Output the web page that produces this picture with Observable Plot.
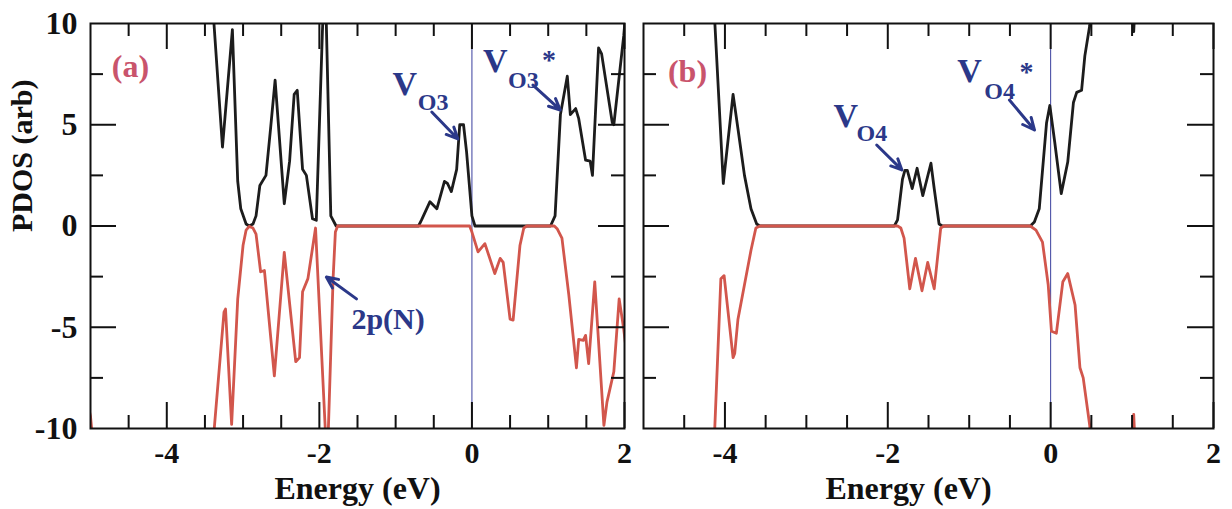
<!DOCTYPE html>
<html>
<head>
<meta charset="utf-8">
<script src="https://cdn.jsdelivr.net/npm/d3@7"></script>
<script src="https://cdn.jsdelivr.net/npm/@observablehq/plot@0.6"></script>
<style>
  body { margin: 0; background: #fff; }
  #fig { position: relative; width: 1232px; height: 509px; overflow: hidden; background: #fff; }
  #fig svg { position: absolute; top: 0; }
</style>
</head>
<body>
<div id="fig"></div>
<script>
// Spin-resolved PDOS, energy in eV; positive = spin up, negative = spin down.
// Values beyond ±10 run off the frame and are clipped.
const panelAUp = [
  [-5.05, 14], [-3.42, 14], [-3.40, 11], [-3.27, 3.9], [-3.14, 9.7], [-3.07, 2.2], [-3.03, 0.85],
  [-2.96, 0.1], [-2.92, 0], [-2.87, 0.1], [-2.83, 0.5], [-2.78, 2.0], [-2.70, 2.5], [-2.64, 4.8],
  [-2.58, 7.2], [-2.46, 1.1], [-2.39, 3.2], [-2.33, 6.5], [-2.29, 6.7], [-2.22, 2.8], [-2.17, 2.5],
  [-2.09, 0.36], [-2.04, 0.28], [-1.96, 9.6], [-1.945, 11], [-1.915, 11], [-1.85, 0.5], [-1.78, 0],
  [-0.70, 0], [-0.66, 0.3], [-0.55, 1.2], [-0.46, 0.85], [-0.36, 2.2], [-0.32, 2.1], [-0.27, 1.7],
  [-0.20, 2.8], [-0.16, 5.0], [-0.11, 5.0], [-0.07, 3.65], [0.0, 0.5], [0.04, 0], [1.03, 0],
  [1.09, 0.5], [1.16, 5.5], [1.25, 7.4], [1.29, 5.5], [1.36, 5.8], [1.40, 5.3], [1.49, 3.25],
  [1.55, 3.2], [1.58, 2.5], [1.66, 8.8], [1.70, 8.5], [1.84, 5.1], [1.86, 5.0], [1.99, 9.4], [2.05, 12]
];
const panelADown = [
  [-5.05, -8.5], [-5.0, -9.4], [-4.96, -11], [-4.9, -14], [-3.45, -14], [-3.40, -11], [-3.25, -4.25],
  [-3.23, -4.1], [-3.15, -9.8], [-3.07, -3.6], [-3.0, -0.95], [-2.96, -0.2], [-2.92, -0.02],
  [-2.87, -0.1], [-2.83, -0.4], [-2.77, -2.26], [-2.72, -2.2], [-2.59, -7.4], [-2.46, -1.3],
  [-2.31, -6.7], [-2.26, -6.5], [-2.22, -3.25], [-2.15, -2.6], [-2.05, -0.1], [-1.91, -11],
  [-1.89, -11], [-1.82, -2.6], [-1.79, -0.3], [-1.76, 0], [-0.03, 0], [0.0, -0.3], [0.08, -1.28],
  [0.17, -0.87], [0.30, -2.35], [0.37, -1.6], [0.41, -1.8], [0.50, -4.6], [0.54, -4.65],
  [0.63, -0.95], [0.68, -0.1], [0.72, 0], [1.08, 0], [1.12, -0.15], [1.18, -0.6], [1.27, -3.4],
  [1.37, -7.0], [1.40, -5.6], [1.46, -5.65], [1.49, -5.4], [1.53, -6.8], [1.61, -2.76],
  [1.73, -9.85], [1.77, -8.7], [1.86, -7.2], [1.93, -3.6], [1.99, -5.1], [2.05, -7]
];
const panelBUp = [
  [-5.05, 14], [-4.15, 14], [-4.13, 10.5], [-4.02, 2.1], [-3.90, 6.5], [-3.84, 4.8], [-3.76, 2.5],
  [-3.68, 0.85], [-3.61, 0.1], [-3.57, 0], [-1.92, 0], [-1.88, 0.3], [-1.82, 2.3], [-1.79, 2.75],
  [-1.76, 2.75], [-1.70, 1.85], [-1.64, 2.85], [-1.57, 1.5], [-1.47, 3.1], [-1.43, 1.85],
  [-1.37, 0.1], [-1.33, 0], [-0.25, 0], [-0.20, 0.2], [-0.14, 0.85], [-0.05, 5.1], [-0.01, 5.95],
  [0.05, 4.15], [0.13, 1.6], [0.21, 3.16], [0.28, 6.1], [0.32, 6.6], [0.38, 6.7], [0.42, 8.4],
  [0.48, 9.9], [0.52, 12], [0.98, 12], [1.02, 9.6], [1.05, 12], [2.05, 14]
];
const panelBDown = [
  [-5.05, -14], [-4.15, -14], [-4.13, -10.5], [-4.05, -2.6], [-4.01, -2.45], [-3.90, -6.5],
  [-3.88, -6.3], [-3.84, -4.6], [-3.76, -2.9], [-3.68, -1.2], [-3.62, -0.1], [-3.57, 0],
  [-1.88, 0], [-1.84, -0.1], [-1.80, -0.6], [-1.73, -3.1], [-1.66, -1.6], [-1.58, -3.2],
  [-1.51, -1.8], [-1.43, -3.1], [-1.35, -0.1], [-1.31, 0], [-0.25, 0], [-0.18, -0.2],
  [-0.10, -0.8], [-0.03, -2.9], [0.01, -5.2], [0.07, -5.3], [0.15, -2.75], [0.21, -2.35],
  [0.30, -3.9], [0.36, -7.0], [0.40, -7.5], [0.48, -9.85], [0.52, -12], [0.98, -12],
  [1.02, -9.3], [1.05, -12], [2.05, -14]
];

// Axis ticks
const energyTicks = [-4, -2, 0, 2];
const energyMinorTicks = [-4.5, -3.5, -3, -2.5, -1.5, -1, -0.5, 0.5, 1, 1.5];
const pdosTicks = [-10, -5, 0, 5, 10];
const pdosInnerTicks = [-5, 0, 5];
const pdosMinorTicks = [-7.5, -2.5, 2.5, 7.5];

// Annotations, placed in (energy, PDOS) coordinates
const panelATag = [{e: -4.72, v: 7.85, t: "(a)"}];
const panelBTag = [{e: -4.70, v: 7.6, t: "(b)"}];
const panelAV = [{e: -1.04, v: 7.0, t: "V"}, {e: 0.145, v: 8.15, t: "V"}];
const panelASub = [{e: -0.71, v: 6.1, t: "O3"}, {e: 0.474, v: 7.2, t: "O3"}];
const panelAStar = [{e: 0.92, v: 8.2, t: "*"}];
const panelANote = [{e: -1.58, v: -4.61, t: "2p(N)"}];
const panelAArrows = [
  {e1: -0.526, v1: 5.63, e2: -0.184, v2: 4.30},
  {e1: 0.80, v1: 6.96, e2: 1.158, v2: 5.73},
  {e1: -1.513, v1: -3.60, e2: -1.908, v2: -2.52}
];
const panelBV = [{e: -2.667, v: 5.43, t: "V"}, {e: -1.148, v: 7.65, t: "V"}];
const panelBSub = [{e: -2.383, v: 4.58, t: "O4"}, {e: -0.815, v: 6.65, t: "O4"}];
const panelBStar = [{e: -0.383, v: 7.6, t: "*"}];
const panelBArrows = [
  {e1: -2.136, v1: 4.0, e2: -1.827, v2: 2.77},
  {e1: -0.506, v1: 6.22, e2: -0.198, v2: 4.74}
];

const upColor = "#1c1c1c";
const downColor = "#d2564c";
const noteColor = "#2b3889";
const tagColor = "#c9546c";
const serif = "'Liberation Serif', 'Times New Roman', serif";

const H = 509, MT = 23, MB = 81;
const innerH = H - MT - MB;

function panel({width, marginLeft, marginRight, up, down, tag, vs, subs, stars, notes, arrows, showY, titleDx}) {
  const innerW = width - marginLeft - marginRight;
  const toRows = (arr) => arr.map(([e, v]) => ({e, v}));
  const txt = (data, size, fill) => Plot.text(data, {
    x: "e", y: "v", text: "t", textAnchor: "start", lineAnchor: "middle",
    fontSize: size, fontWeight: "bold", fill
  });
  return Plot.plot({
    width, height: H, marginLeft, marginRight, marginTop: MT, marginBottom: MB,
    x: {domain: [-5, 2], label: null, axis: null},
    y: {domain: [-10, 10], label: null, axis: null},
    style: {fontFamily: serif, fontSize: "32px", fontWeight: "bold", color: "#111", background: "transparent", overflow: "visible"},
    marks: [
      Plot.ruleX([0], {stroke: "#3a3f9e", strokeWidth: 1}),
      Plot.line(toRows(up), {x: "e", y: "v", stroke: upColor, strokeWidth: 2.8, clip: true}),
      Plot.line(toRows(down), {x: "e", y: "v", stroke: downColor, strokeWidth: 2.8, clip: true}),
      Plot.frame({stroke: "#111", strokeWidth: 2}),
      // inward ticks on all four sides
      Plot.tickX(energyTicks, {x: d => d, insetTop: innerH - 26, strokeWidth: 2, stroke: "#111"}),
      Plot.tickX(energyTicks, {x: d => d, insetBottom: innerH - 26, strokeWidth: 2, stroke: "#111"}),
      Plot.tickX(energyMinorTicks, {x: d => d, insetTop: innerH - 13, strokeWidth: 2, stroke: "#111"}),
      Plot.tickX(energyMinorTicks, {x: d => d, insetBottom: innerH - 13, strokeWidth: 2, stroke: "#111"}),
      Plot.tickY(pdosInnerTicks, {y: d => d, insetRight: innerW - 26, strokeWidth: 2, stroke: "#111"}),
      Plot.tickY(pdosInnerTicks, {y: d => d, insetLeft: innerW - 26, strokeWidth: 2, stroke: "#111"}),
      Plot.tickY(pdosMinorTicks, {y: d => d, insetRight: innerW - 13, strokeWidth: 2, stroke: "#111"}),
      Plot.tickY(pdosMinorTicks, {y: d => d, insetLeft: innerW - 13, strokeWidth: 2, stroke: "#111"}),
      Plot.axisX({ticks: energyTicks, tickSize: 0, tickPadding: 13, fontSize: 30, tickFormat: d => String(d), label: null}),
      showY ? Plot.axisY({ticks: pdosTicks, tickSize: 0, tickPadding: 13, tickFormat: d => String(d), label: null}) : null,
      showY ? Plot.text(["PDOS (arb)"], {frameAnchor: "left", dx: -68, dy: 6, rotate: -90, fontSize: 30, text: d => d}) : null,
      Plot.text(["Energy (eV)"], {frameAnchor: "bottom", dx: titleDx, dy: 70, fontSize: 32, text: d => d}),
      txt(tag, 32, tagColor),
      txt(vs, 34, noteColor),
      txt(subs, 24, noteColor),
      txt(stars, 28, noteColor),
      txt(notes, 30, noteColor),
      Plot.arrow(arrows, {x1: "e1", y1: "v1", x2: "e2", y2: "v2", stroke: noteColor, strokeWidth: 3, headLength: 13, headAngle: 50})
    ]
  });
}

const fig = document.getElementById("fig");
const a = panel({
  width: 634, marginLeft: 90, marginRight: 10, up: panelAUp, down: panelADown,
  tag: panelATag, vs: panelAV, subs: panelASub, stars: panelAStar, notes: panelANote,
  arrows: panelAArrows, showY: true, titleDx: 0
});
a.style.left = "0px";
fig.appendChild(a);
const b = panel({
  width: 598, marginLeft: 9, marginRight: 19, up: panelBUp, down: panelBDown,
  tag: panelBTag, vs: panelBV, subs: panelBSub, stars: panelBStar, notes: [],
  arrows: panelBArrows, showY: false, titleDx: -20
});
b.style.left = "634px";
fig.appendChild(b);
</script>
</body>
</html>
